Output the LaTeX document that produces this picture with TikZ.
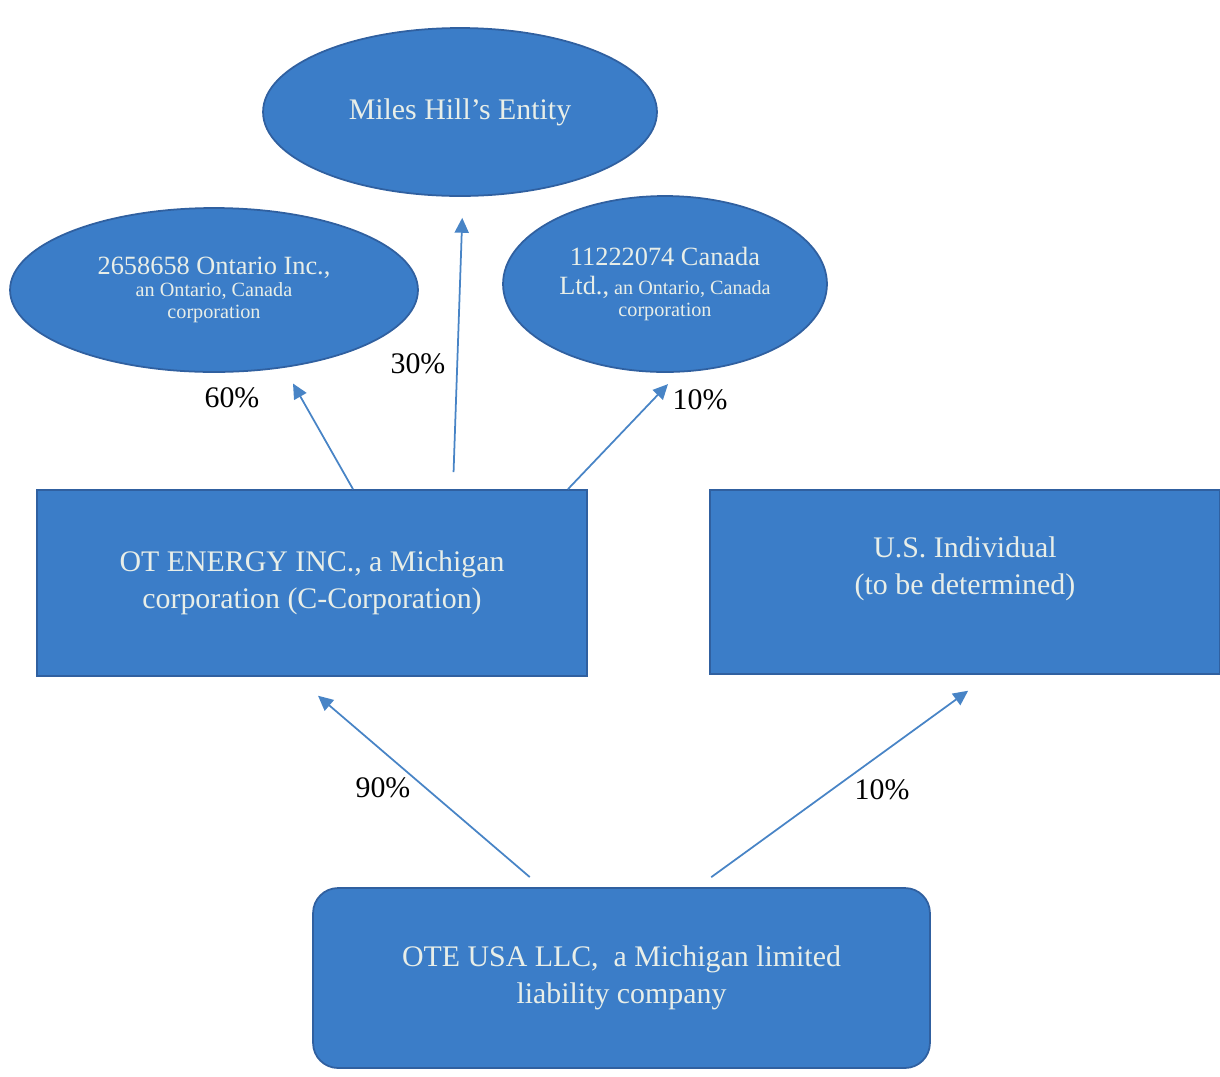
\documentclass[tikz,border=0pt]{standalone}
\usepackage{fontspec}
\setmainfont{Liberation Serif}
\usepackage{xcolor}
\usetikzlibrary{shapes.geometric, arrows.meta, positioning}

\definecolor{boxblue}{RGB}{59,125,200}
\definecolor{edgeblue}{RGB}{48,96,160}
\definecolor{boxtext}{RGB}{232,238,232}
\definecolor{arrowblue}{RGB}{72,132,198}

\begin{document}
\begin{tikzpicture}[x=0.02cm, y=-0.02cm,
    entity/.style={draw=edgeblue, ellipse, fill=boxblue, line width=1pt, text=boxtext, align=center, inner sep=0pt},
    box/.style={draw=edgeblue, rectangle, fill=boxblue, line width=1pt, text=boxtext, align=center, font=\fontsize{17}{21}\selectfont},
    pct/.style={font=\fontsize{17}{20}\selectfont},
    arrow/.style={-{Triangle[length=8.5pt, width=8pt]}, draw=arrowblue, fill=arrowblue, line width=1pt}
]
\useasboundingbox (0,0) rectangle (1220,1076);

% Nodes
\node[entity, minimum width=7.88cm, minimum height=3.36cm, font=\fontsize{17}{20}\selectfont] (miles) at (460,112) {Miles Hill's Entity};
\node[entity, minimum width=8.16cm, minimum height=3.28cm, font=\fontsize{11.5}{12.5}\selectfont] (ontario) at (214,290) {{\fontsize{15}{15}\selectfont 2658658 Ontario Inc.,}\\an Ontario, Canada\\corporation};
\node[entity, minimum width=6.48cm, minimum height=3.52cm, font=\fontsize{11.5}{12.5}\selectfont] (canada) at (665,284) {{\fontsize{15}{15}\selectfont 11222074 Canada}\\[4pt]{\fontsize{15}{15}\selectfont Ltd.,} an Ontario, Canada\\corporation};

\node[box, minimum width=11cm, minimum height=3.72cm] (energy) at (312,583) {OT ENERGY INC., a Michigan\\corporation (C-Corporation)};
\node[box, minimum width=10.2cm, minimum height=3.68cm, text depth=0.66cm] (person) at (965,582) {U.S. Individual\\(to be determined)};
\node[box, rounded corners=0.5cm, minimum width=12.34cm, minimum height=3.6cm] (llc) at (621.5,978) {OTE USA LLC,~ a Michigan limited\\liability company};

% Connections
\draw[arrow, shorten >=0.36cm] ([xshift=0.82cm]energy.north) -- (ontario.-48);
\draw[arrow, shorten <=0.34cm, shorten >=0.42cm] ([xshift=2.82cm]energy.north) -- (miles.-88);
\draw[arrow, shorten >=0.32cm] ([xshift=5.12cm]energy.north) -- (canada.-81);
\draw[arrow, shorten <=0.31cm, shorten >=0.58cm] ([xshift=-1.6cm]llc.north) -- ([xshift=-0.32cm]energy.south);
\draw[arrow, shorten <=0.34cm, shorten >=0.54cm] ([xshift=1.52cm]llc.north) -- ([xshift=0.5cm]person.south);

% Percent labels
\node[pct] (p60) at (232,398) {60\%};
\node[pct] (p30) at (418,364) {30\%};
\node[pct] (p10a) at (700,400) {10\%};
\node[pct] (p90) at (383,788) {90\%};
\node[pct] (p10b) at (882,790) {10\%};

\end{tikzpicture}
\end{document}
